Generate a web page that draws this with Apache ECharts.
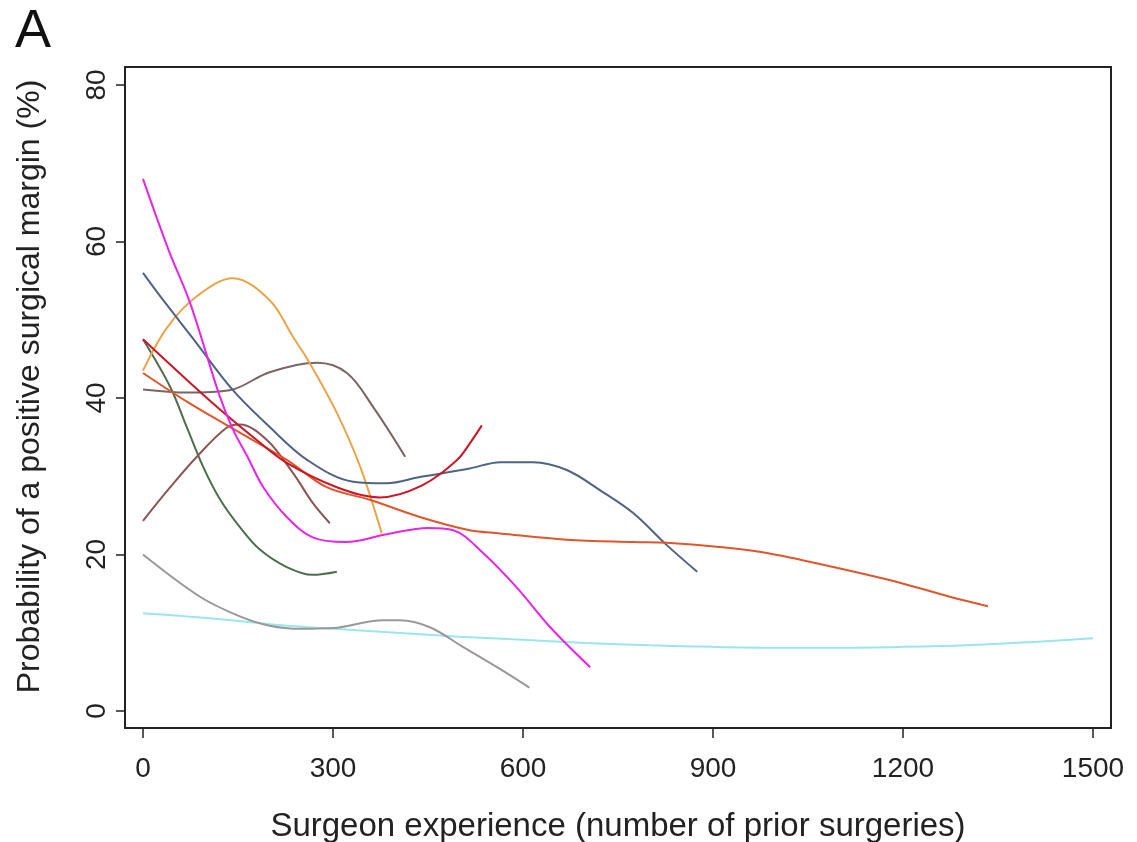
<!DOCTYPE html>
<html>
<head>
<meta charset="utf-8">
<script src="https://cdn.jsdelivr.net/npm/echarts@6/dist/echarts.min.js"></script>
<style>
  html, body { margin: 0; padding: 0; background: #fff; }
  #grafica { width: 1137px; height: 842px; }
</style>
</head>
<body>
<div id="grafica"></div>
<script>
// curvas: [experiencia, probabilidad %]
let magenta = [[0,68],[40,59],[75,52],[120,40.5],[142,36],[165,32.5],[190,28.6],[227,24.8],[268,22.2],[320,21.6],[385,22.6],[450,23.4],[490,23.1],[537,20.2],[590,15.8],[643,10.7],[706,5.6]];
let naranja = [[0,43.5],[38,49],[85,53],[142,55.3],[200,52.5],[237,47.8],[260,44.9],[306,38.1],[343,31.2],[377,22.7]];
let azul = [[0,56],[32,52.5],[80,47.5],[142,41],[200,36.3],[259,32.1],[332,29.3],[385,29.1],[437,29.9],[516,31],[564,31.8],[616,31.8],[669,30.8],[722,28.2],[774,25.3],[827,21.2],[875,17.8]];
let rojo = [[0,47.5],[60,43],[122,38.5],[180,34.6],[227,31.7],[306,28.6],[374,27.3],[440,28.8],[496,32.1],[516,34.2],[535,36.5]];
let bermellon = [[0,43.2],[70,39.5],[137,36.3],[227,32.1],[290,28.6],[358,27],[437,24.8],[516,23.1],[564,22.7],[669,21.9],[774,21.6],[827,21.5],[906,21],[985,20.2],[1090,18.4],[1195,16.4],[1274,14.6],[1334,13.4]];
let cafe_gris = [[0,41.1],[69,40.7],[137,41],[200,43.3],[275,44.5],[322,43.2],[363,38.9],[414,32.5]];
let cafe = [[0,24.3],[43,28.6],[85,32.5],[132,36.2],[153,36.6],[196,34.6],[237,30.4],[268,26.6],[295,24]];
let verde = [[0,47.5],[43,41.4],[69,36.3],[95,31.2],[122,27],[153,23.5],[185,20.6],[227,18.4],[268,17.4],[306,17.8]];
let gris = [[0,20],[90,14.6],[150,12.2],[200,10.9],[250,10.5],[300,10.6],[379,11.6],[406,11.6],[453,10.7],[505,8.2],[559,5.6],[610,3]];
let cian = [[0,12.5],[100,11.9],[200,11.1],[300,10.5],[400,10],[500,9.5],[600,9.1],[700,8.7],[800,8.4],[900,8.2],[1000,8.1],[1100,8.1],[1200,8.2],[1300,8.4],[1400,8.8],[1500,9.3]];

let curvas = [
  {data: cian, color: '#9ae6ec'},
  {data: gris, color: '#999999'},
  {data: verde, color: '#4d6e4d'},
  {data: cafe, color: '#8a5656'},
  {data: cafe_gris, color: '#7a6464'},
  {data: naranja, color: '#e9a54a'},
  {data: azul, color: '#4f6383'},
  {data: bermellon, color: '#e0562c'},
  {data: rojo, color: '#cc1525'},
  {data: magenta, color: '#e626e6'}
];

let x_ticks = [0, 300, 600, 900, 1200, 1500];
let y_ticks = [0, 20, 40, 60, 80];
// R deja un margen alrededor de los datos
let x_rango = [-28.4, 1528.4];
let y_rango = [-2.17, 82.3];

let fuente = "'Liberation Sans', Arial, sans-serif";

let grafica_div = echarts.init(document.getElementById('grafica'));
var options = {
  animation: false,
  backgroundColor: '#ffffff',
  title: {
    text: 'A', left: 10, top: 0,
    textStyle: {fontFamily: fuente, fontSize: 54, fontWeight: 'normal', color: '#111'}
  },
  grid: {left: 125, right: 26, top: 67, bottom: 114, outerBoundsMode: 'none', containLabel: false,
         show: true, borderColor: '#222', borderWidth: 2},
  xAxis: {
    type: 'value', min: x_rango[0], max: x_rango[1],
    name: 'Surgeon experience (number of prior surgeries)',
    nameLocation: 'middle', nameGap: 82,
    nameTextStyle: {fontFamily: fuente, fontSize: 33, color: '#222'},
    axisLine: {show: false, onZero: false},
    axisTick: {show: true, length: 10, customValues: x_ticks, lineStyle: {color: '#222', width: 1.5}},
    axisLabel: {margin: 27, customValues: x_ticks, formatter: v => String(v), fontFamily: fuente, fontSize: 28, color: '#222'},
    splitLine: {show: false}
  },
  yAxis: {
    type: 'value', min: y_rango[0], max: y_rango[1],
    name: 'Probability of a positive surgical margin (%)',
    nameLocation: 'middle', nameGap: 79, nameRotate: 90,
    nameTextStyle: {fontFamily: fuente, fontSize: 32, color: '#222', padding: [0, 0, 0, 22]},
    axisLine: {show: false, onZero: false},
    axisTick: {show: true, length: 9, customValues: y_ticks, lineStyle: {color: '#222', width: 1.5}},
    axisLabel: {margin: 14, rotate: 90, customValues: y_ticks, formatter: v => String(v), fontFamily: fuente, fontSize: 28, color: '#222'},
    splitLine: {show: false}
  },
  series: curvas.map(c => ({
    type: 'line',
    data: c.data,
    smooth: 0.35,
    showSymbol: false,
    lineStyle: {color: c.color, width: 2},
    itemStyle: {color: c.color}
  }))
};
grafica_div.setOption(options);
</script>
</body>
</html>
